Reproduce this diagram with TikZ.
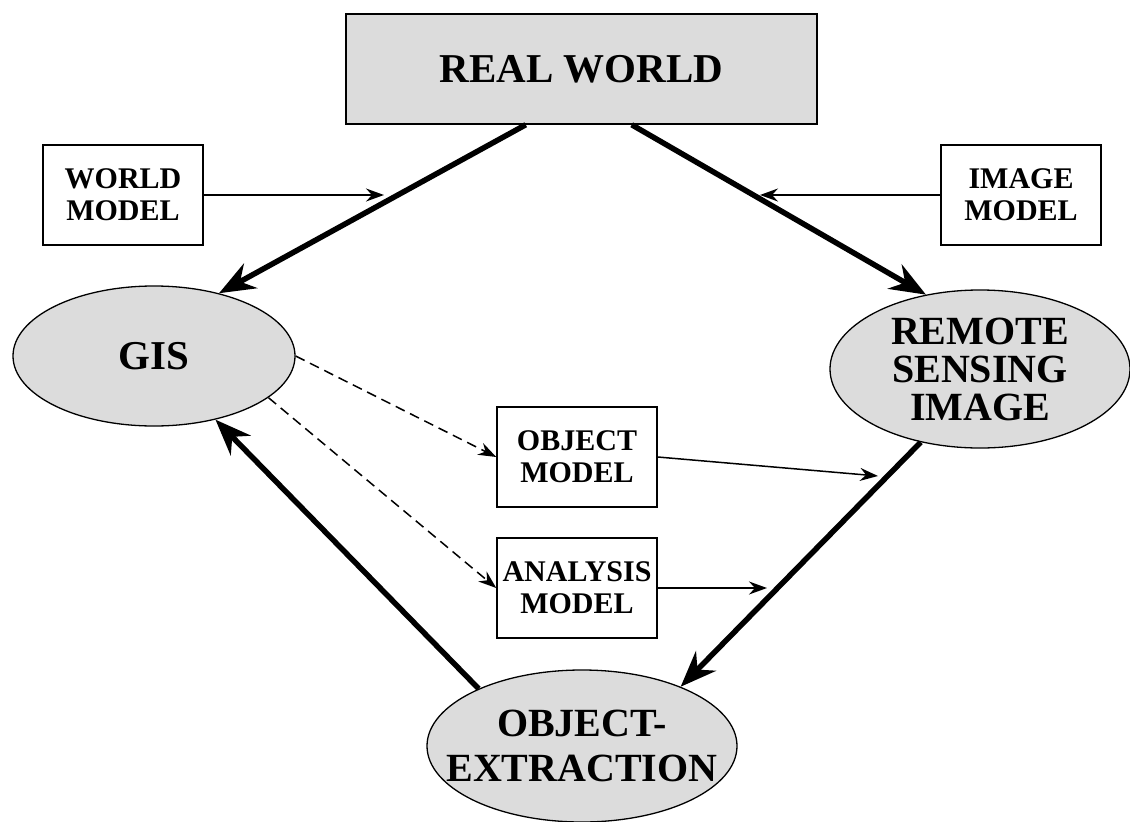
\documentclass[tikz,border=0pt]{standalone}
\usepackage{fontspec}
\setmainfont{Liberation Serif}
\usepackage{tikz}
\usetikzlibrary{shapes.geometric,arrows.meta}
\definecolor{boxgray}{RGB}{220,220,220}

\begin{document}
\begin{tikzpicture}[x=1pt,y=-1pt]
\tikzstyle{every node}+=[inner sep=0pt]
\tikzstyle{modelbox}=[draw,line width=1.5pt,minimum width=160pt,minimum height=100pt,align=center,font=\fontsize{30}{32}\selectfont\bfseries]
\tikzstyle{blob}=[ellipse,draw,line width=1.3pt,fill=boxgray,align=center]
\tikzstyle{bigarrow}=[line width=5.5pt,-{Stealth[length=36pt,width=28pt,inset=12pt]}]
\tikzstyle{smallarrow}=[line width=1.5pt,-{Stealth[length=18pt,width=13pt,inset=6pt]}]
\useasboundingbox (0,0) rectangle (1130,822);
% main nodes
\node [draw,line width=1.5pt,fill=boxgray,minimum width=471pt,minimum height=110pt,font=\fontsize{41}{44}\selectfont\bfseries] (rw) at (581.5,69) {REAL WORLD};
\node [blob,minimum width=282pt,minimum height=140pt,font=\fontsize{41}{44}\selectfont\bfseries] (gis) at (154,356) {GIS};
\node [blob,minimum width=300pt,minimum height=158pt,font=\fontsize{40}{38}\selectfont\bfseries] (rsi) at (980,369) {REMOTE\\SENSING\\IMAGE};
\node [blob,minimum width=310pt,minimum height=152pt,inner xsep=-40pt,font=\fontsize{40}{45}\selectfont\bfseries] (oe) at (582,746) {OBJECT-\\EXTRACTION};
% models
\node [modelbox] (wm) at (123,195) {WORLD\\MODEL};
\node [modelbox] (im) at (1021,195) {IMAGE\\MODEL};
\node [modelbox] (om) at (577,457) {OBJECT\\MODEL};
\node [modelbox] (am) at (577,588) {ANALYSIS\\MODEL};
% free ends of the thin arrows
\coordinate (wmtip) at (384,195);
\coordinate (imtip) at (760,195);
\coordinate (omtip) at (878,476);
\coordinate (amtip) at (767,588);
% thick arrows
\draw [bigarrow] (rw.-135) -- (gis.44.5);
\draw [bigarrow] (rw.-48) -- (rsi.126.7);
\draw [bigarrow] (rsi.-129) -- (oe.31.5);
\draw [bigarrow] (oe.151.5) -- (gis.-46);
% thin arrows
\draw [smallarrow] (wm.east) -- (wmtip);
\draw [smallarrow] (im.west) -- (imtip);
\draw [smallarrow] (om.east) -- (omtip);
\draw [smallarrow] (am.east) -- (amtip);
\draw [smallarrow,dash pattern=on 10pt off 6pt] (gis.east) -- (om.west);
\draw [smallarrow,dash pattern=on 10pt off 6pt] (gis.-20) -- (am.west);
\end{tikzpicture}
\end{document}
